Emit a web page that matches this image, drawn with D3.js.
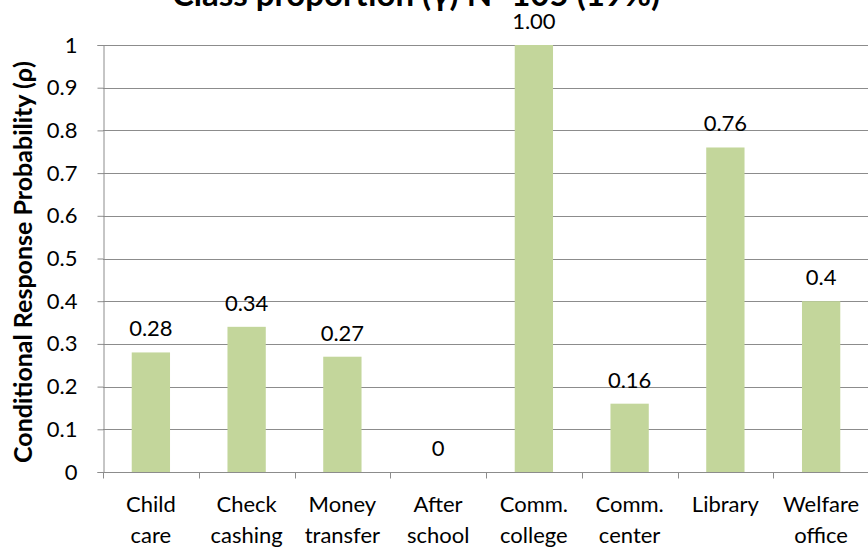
<!DOCTYPE html>
<html>
<head>
<meta charset="utf-8">
<script src="https://cdn.jsdelivr.net/npm/d3@7"></script>
<style>
  html, body { margin: 0; padding: 0; background: #fff; }
  svg { display: block; font-family: Lato, "Open Sans", sans-serif; }
</style>
</head>
<body>
<svg id="chart" width="868" height="552"></svg>
<script>
// Services and the conditional response probability for this class
const categories = [
  ["Child", "care"],
  ["Check", "cashing"],
  ["Money", "transfer"],
  ["After", "school"],
  ["Comm.", "college"],
  ["Comm.", "center"],
  ["Library"],
  ["Welfare", "office"]
];
const values = [0.28, 0.34, 0.27, 0, 1.00, 0.16, 0.76, 0.4];
const valueLabels = ["0.28", "0.34", "0.27", "0", "1.00", "0.16", "0.76", "0.4"];
const yTicks = [0, 0.1, 0.2, 0.3, 0.4, 0.5, 0.6, 0.7, 0.8, 0.9, 1];
const titleText = "Class proportion (\u03b3) N=105 (19%)";
const yTitle = "Conditional Response Probability (\u03c1)";

const svg = d3.select("#chart");
const margin = { left: 103, right: 869, top: 45, bottom: 472 };
const FONT = 22;

const x = d3.scaleBand()
  .domain(d3.range(categories.length))
  .range([margin.left, margin.right])
  .paddingInner(0.6)
  .paddingOuter(0.3);

const y = d3.scaleLinear().domain([0, 1]).range([margin.bottom, margin.top]);

// horizontal gridlines
svg.append("g")
  .selectAll("line")
  .data(yTicks.filter(d => d > 0))
  .join("line")
  .attr("x1", margin.left)
  .attr("x2", 868)
  .attr("y1", d => Math.round(y(d)) + 0.5)
  .attr("y2", d => Math.round(y(d)) + 0.5)
  .attr("stroke", "#8c8c8c")
  .attr("stroke-width", 1);

// bars
svg.append("g")
  .selectAll("rect")
  .data(values)
  .join("rect")
  .attr("x", (d, i) => x(i))
  .attr("width", x.bandwidth())
  .attr("y", d => y(d))
  .attr("height", d => y(0) - y(d))
  .attr("fill", "#c3d69b");

// y axis
const yAxis = svg.append("g")
  .attr("transform", `translate(${margin.left + 0.5},0)`)
  .call(d3.axisLeft(y).tickValues(yTicks).tickSize(6).tickPadding(20)
    .tickFormat(d => d === 0 || d === 1 ? String(d) : d3.format(".1f")(d)));
yAxis.select(".domain").attr("stroke", "#8c8c8c");
yAxis.selectAll(".tick line").attr("stroke", "#8c8c8c");
yAxis.selectAll(".tick text")
  .attr("font-size", FONT)
  .attr("fill", "#000")
  .attr("font-family", "Lato, sans-serif");

// x axis baseline and category separators
const xBase = Math.round(y(0)) + 0.5;
svg.append("line")
  .attr("x1", margin.left).attr("x2", 868)
  .attr("y1", xBase).attr("y2", xBase)
  .attr("stroke", "#8c8c8c");
const step = x.step();
svg.append("g")
  .selectAll("line")
  .data(d3.range(categories.length + 1))
  .join("line")
  .attr("x1", i => Math.round(margin.left + i * step) + 0.5)
  .attr("x2", i => Math.round(margin.left + i * step) + 0.5)
  .attr("y1", xBase)
  .attr("y2", xBase + 6)
  .attr("stroke", "#8c8c8c");

// category labels
svg.append("g")
  .selectAll("text")
  .data(categories)
  .join("text")
  .attr("x", (d, i) => x(i) + x.bandwidth() / 2)
  .attr("y", 512)
  .attr("text-anchor", "middle")
  .attr("font-size", FONT)
  .attr("fill", "#000")
  .selectAll("tspan")
  .data(d => d)
  .join("tspan")
  .attr("x", function () { return d3.select(this.parentNode).attr("x"); })
  .attr("dy", (d, j) => j === 0 ? 0 : 31)
  .text(d => d);

// value labels
svg.append("g")
  .selectAll("text")
  .data(values)
  .join("text")
  .attr("x", (d, i) => x(i) + x.bandwidth() / 2)
  .attr("y", d => y(d) - 16)
  .attr("text-anchor", "middle")
  .attr("font-size", FONT)
  .attr("fill", "#000")
  .text((d, i) => valueLabels[i]);

// y axis title
svg.append("text")
  .attr("transform", "translate(32,262) rotate(-90)")
  .attr("text-anchor", "middle")
  .attr("font-size", 25)
  .attr("font-weight", "bold")
  .attr("fill", "#000")
  .text(yTitle);

// chart title
svg.append("text")
  .attr("x", 416)
  .attr("y", 6)
  .attr("text-anchor", "middle")
  .attr("font-size", 33)
  .attr("font-weight", "bold")
  .attr("fill", "#000")
  .text(titleText);
</script>
</body>
</html>
